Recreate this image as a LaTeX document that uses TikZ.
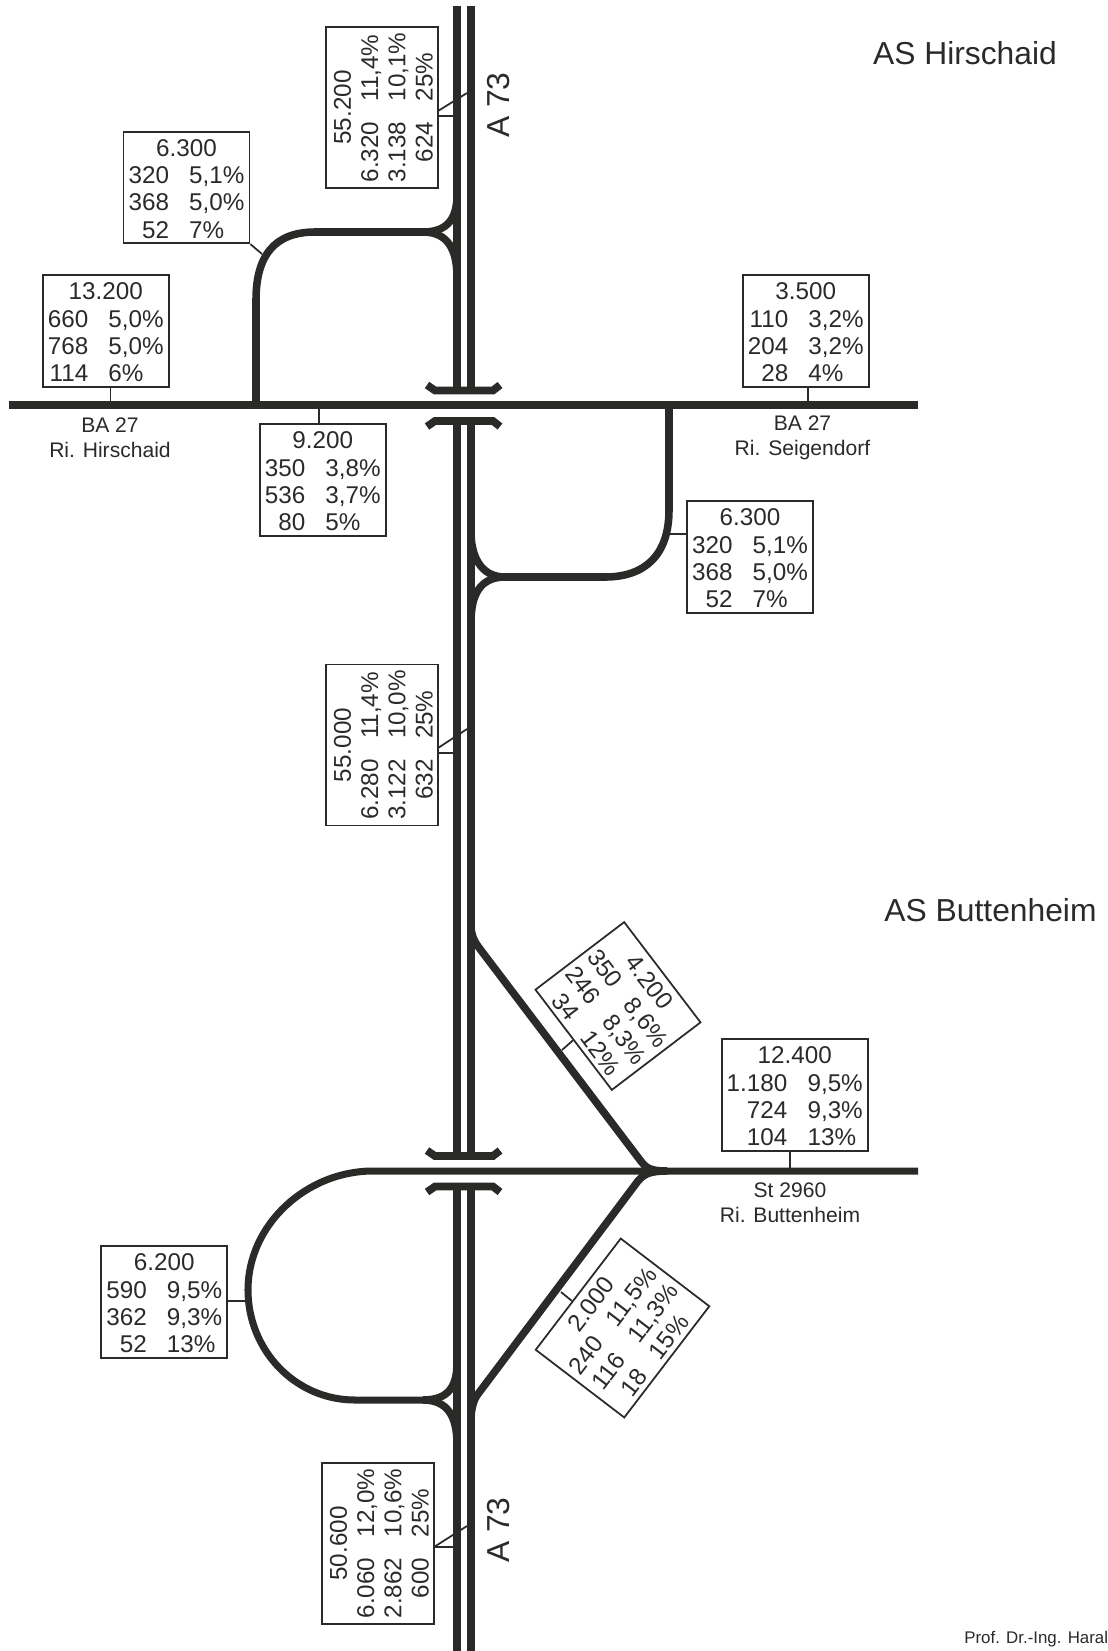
\documentclass[tikz,border=0pt]{standalone}
\usepackage{fontspec}
\setmainfont{Liberation Sans}
\usetikzlibrary{calc}
\definecolor{fg}{RGB}{42,42,40}
\newcommand{\zahlen}[4]{\raisebox{-2.4pt}[\height][\depth]{\begin{tabular}{@{}r@{\hspace{11.5pt}}l@{}}\multicolumn{2}{c}{#1}\\#2\\#3\\#4\end{tabular}}}
\tikzset{
  every node/.style={text=fg},
  % Linientypen
  road/.style={fg, line width=4.55pt},
  ramp/.style={fg, line width=4.3pt},
  side/.style={fg, line width=4pt},
  bridge/.style={fg, line width=4.4pt, line join=miter},
  leader/.style={fg, line width=1pt},
  % Zaehlkaesten
  tbl/.style={draw=fg, line width=1pt, inner sep=0pt, minimum width=#1*0.02cm, minimum height=2.23cm,
    font=\fontsize{13.8}{15.5}\selectfont},
  tbl/.default=126,
  % Beschriftung
  lbl/.style={align=center, inner sep=0pt, font=\fontsize{12}{14}\selectfont},
  title/.style={inner sep=0pt, font=\fontsize{18.1}{22}\selectfont},
}
\begin{document}
\begin{tikzpicture}[x=0.02cm, y=-0.02cm]
  \useasboundingbox (0,0) rectangle (1108,1651);
  % Autobahn
  \foreach \xa in {457,471} {
    \draw[road] (\xa,5.5) -- (\xa,390);
    \draw[road] (\xa,421) -- (\xa,1156);
    \draw[road] (\xa,1186) -- (\xa,1651);
  }
  % Bruecken
  \foreach \ya in {390.5,1156} {
    \draw[bridge] (427,\ya-5.5) -- (435,\ya) -- (493,\ya) -- (500,\ya-5.5);
    \draw[bridge] (427,\ya+36) -- (435,\ya+30.5) -- (493,\ya+30.5) -- (500,\ya+36);
  }
  % Querstrassen
  \draw[road] (9,405) -- (918,405);
  \draw[side] (918,1171) -- (373,1171)
    .. controls (307,1171) and (248,1224) .. (248,1290)
    .. controls (248,1350) and (295,1400) .. (355,1400) -- (423,1400);
  % Rampen AS Hirschaid
  \draw[ramp] (256,405) -- (256,300) .. controls (256,255) and (275,232) .. (315,232) -- (423,232);
  \draw[ramp] (457,195) .. controls (457,218) and (448,232) .. (423,232);
  \draw[ramp] (423,232) .. controls (448,232) and (457,250) .. (457,277);
  \draw[ramp] (669,405) -- (669,510) .. controls (669,555) and (645,577) .. (605,577) -- (505,577);
  \draw[ramp] (471,532) .. controls (471,555) and (480,577) .. (505,577);
  \draw[ramp] (505,577) .. controls (480,577) and (471,595) .. (471,622);
  % Rampen AS Buttenheim
  \draw[ramp] (457,1363) .. controls (457,1387) and (448,1400) .. (423,1400);
  \draw[ramp] (423,1400) .. controls (448,1400) and (457,1417) .. (457,1444);
  \draw[ramp] (471,925) .. controls (471,935) and (474,941) .. (480,949) -- (640,1160)
    .. controls (646,1168) and (650,1171) .. (667,1171);
  \draw[ramp] (471,1420) .. controls (471,1408) and (474,1399) .. (478,1394) -- (638,1181)
    .. controls (644,1174) and (650,1171) .. (667,1171);
  % Zaehlkaesten
  \node[tbl=161, rotate=90] (boxA) at (382,107.5) {\zahlen{55.200}{6.320 & 11,4\%}{3.138 & 10,1\%}{624 & 25\%}};
  \node[tbl] (boxB) at (186.5,187.5) {\zahlen{6.300}{320 & 5,1\%}{368 & 5,0\%}{52 & 7\%}};
  \node[tbl] (boxC) at (105.75,331) {\zahlen{13.200}{660 & 5,0\%}{768 & 5,0\%}{114 & 6\%}};
  \node[tbl] (boxD) at (805.75,331) {\zahlen{3.500}{110 & 3,2\%}{204 & 3,2\%}{28 & 4\%}};
  \node[tbl] (boxE) at (322.75,480) {\zahlen{9.200}{350 & 3,8\%}{536 & 3,7\%}{80 & 5\%}};
  \node[tbl] (boxF) at (750,557) {\zahlen{6.300}{320 & 5,1\%}{368 & 5,0\%}{52 & 7\%}};
  \node[tbl=161, rotate=90] (boxG) at (382,745) {\zahlen{55.000}{6.280 & 11,4\%}{3.122 & 10,0\%}{632 & 25\%}};
  \node[tbl=146] (boxH) at (794.75,1095) {\zahlen{12.400}{1.180 & 9,5\%}{724 & 9,3\%}{104 & 13\%}};
  \node[tbl] (boxI) at (164.25,1302) {\zahlen{6.200}{590 & 9,5\%}{362 & 9,3\%}{52 & 13\%}};
  \node[tbl=161, rotate=90] (boxJ) at (378,1543.5) {\zahlen{50.600}{6.060 & 12,0\%}{2.862 & 10,6\%}{600 & 25\%}};
  \node[tbl, rotate=-52.7] (boxK) at (618,1006) {\zahlen{4.200}{350 & 8,6\%}{246 & 8,3\%}{34 & 12\%}};
  \node[tbl=140, rotate=52.6] (boxL) at (622.5,1328) {\zahlen{2.000}{240 & 11,5\%}{116 & 11,3\%}{18 & 15\%}};
  % Zuordnung Kasten - Strecke
  \coordinate (endAa) at (453,116);
  \coordinate (endAb) at (467,93);
  \coordinate (endB) at (262,254);
  \coordinate (endC) at (110.5,405);
  \coordinate (endD) at (808,405);
  \coordinate (endE) at (319,405);
  \coordinate (endF) at (669,534);
  \coordinate (endGa) at (453,753);
  \coordinate (endGb) at (467,729);
  \coordinate (endH) at (790,1171);
  \coordinate (endI) at (248,1301);
  \coordinate (endJa) at (453,1547);
  \coordinate (endJb) at (467,1526);
  \coordinate (endK) at (562,1050);
  \coordinate (endL) at (561,1292);
  \draw[leader] (endAa -| boxA.south) -- (endAa);
  \draw[leader] (438,111) -- (endAb);
  \draw[leader] (boxB.south east) -- (endB);
  \draw[leader] (endC |- boxC.south) -- (endC);
  \draw[leader] (endD |- boxD.south) -- (endD);
  \draw[leader] (endE |- boxE.north) -- (endE);
  \draw[leader] (boxF.west |- endF) -- (endF);
  \draw[leader] (endGa -| boxG.south) -- (endGa);
  \draw[leader] (438,748) -- (endGb);
  \draw[leader] (endH |- boxH.south) -- (endH);
  \draw[leader] (boxI.east |- endI) -- (endI);
  \draw[leader] (endJa -| boxJ.south) -- (endJa);
  \draw[leader] (434,1547) -- (endJb);
  \draw[leader] (boxK.south) -- (endK);
  \draw[leader] ($(boxL.north west)!0.435!(boxL.north east)$) -- (endL);
  % Beschriftung
  \node[title] (asH) at (965,53) {AS Hirschaid};
  \node[title] (asB) at (990.5,910) {AS Buttenheim};
  \node[title, rotate=90] (a73o) at (499,105) {A 73};
  \node[title, rotate=90] (a73u) at (499,1530) {A 73};
  \node[lbl] (riH) at (110,438) {BA 27\\Ri. Hirschaid};
  \node[lbl] (riS) at (802.5,438) {BA 27\\Ri. Seigendorf};
  \node[lbl] (riB) at (790,1203) {St 2960\\Ri. Buttenheim};
  \node[anchor=base west, inner sep=0pt, font=\fontsize{9.6}{11}\selectfont] (prof) at (964,1643) {Prof. Dr.-Ing. Harald};
\end{tikzpicture}
\end{document}
